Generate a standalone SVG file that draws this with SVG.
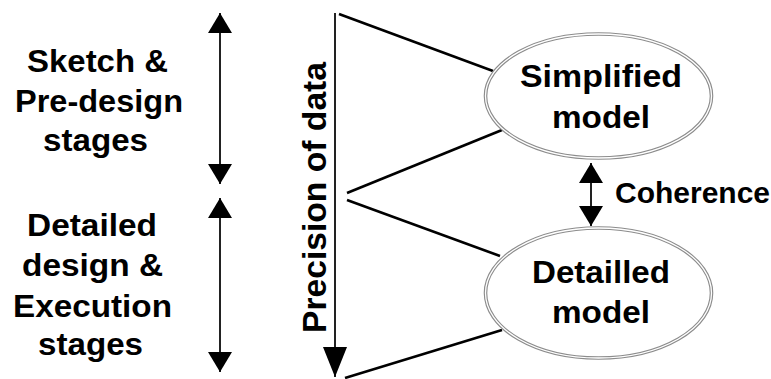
<svg xmlns="http://www.w3.org/2000/svg" width="771" height="379" viewBox="0 0 771 379">
  <style>
    .lbl { font-family: "Liberation Sans", Arial, Helvetica, sans-serif; font-weight: bold; fill: #000; }
    .c { text-anchor: middle; }
    .axis { stroke: #222; stroke-width: 2; fill: none; }
    .link { stroke: #000; stroke-width: 2.6; fill: none; }
    .ring-out { fill: #fff; stroke: #8c8c8c; stroke-width: 3.6; }
    .ring-in { fill: none; stroke: #fff; stroke-width: 1.3; }
  </style>
  <defs>
    <marker id="head" markerUnits="userSpaceOnUse" markerWidth="24" markerHeight="24" refX="20" refY="12" orient="auto-start-reverse" viewBox="0 0 24 24">
      <path d="M0,0 L20,12 L0,24 Z" fill="#000"/>
    </marker>
    <marker id="bighead" markerUnits="userSpaceOnUse" markerWidth="30" markerHeight="24" refX="30" refY="12" orient="auto" viewBox="0 0 30 24">
      <path d="M0,0 L30,12 L0,24 Z" fill="#000"/>
    </marker>
  </defs>

  <!-- stage ranges -->
  <g id="stage-sketch">
    <line class="axis" x1="220" y1="13" x2="220" y2="184" marker-start="url(#head)" marker-end="url(#head)"/>
    <text class="lbl c" font-size="32" x="97.5" y="72" textLength="141" lengthAdjust="spacingAndGlyphs">Sketch &amp;</text>
    <text class="lbl c" font-size="32" x="99" y="112" textLength="168" lengthAdjust="spacingAndGlyphs">Pre-design</text>
    <text class="lbl c" font-size="32" x="95.5" y="151" textLength="105" lengthAdjust="spacingAndGlyphs">stages</text>
  </g>
  <g id="stage-detailed">
    <line class="axis" x1="220" y1="198" x2="220" y2="372" marker-start="url(#head)" marker-end="url(#head)"/>
    <text class="lbl c" font-size="32" x="92" y="236" textLength="130" lengthAdjust="spacingAndGlyphs">Detailed</text>
    <text class="lbl c" font-size="32" x="92.5" y="276" textLength="141" lengthAdjust="spacingAndGlyphs">design &amp;</text>
    <text class="lbl c" font-size="32" x="92.5" y="317" textLength="159" lengthAdjust="spacingAndGlyphs">Execution</text>
    <text class="lbl c" font-size="32" x="90.5" y="355" textLength="105" lengthAdjust="spacingAndGlyphs">stages</text>
  </g>

  <!-- precision axis -->
  <g id="precision-axis">
    <line class="axis" x1="335" y1="13" x2="335" y2="377" marker-end="url(#bighead)"/>
    <text class="lbl c" font-size="34" transform="translate(326,197.5) rotate(-90)" textLength="271" lengthAdjust="spacingAndGlyphs">Precision of data</text>
  </g>

  <!-- connectors -->
  <g id="connectors">
    <line class="link" x1="339" y1="14" x2="493" y2="71"/>
    <line class="link" x1="347" y1="193" x2="502" y2="130"/>
    <line class="link" x1="347" y1="200" x2="500" y2="256"/>
    <line class="link" x1="345" y1="378" x2="502" y2="330"/>
  </g>

  <!-- models -->
  <g id="simplified-model">
    <ellipse class="ring-out" cx="598.5" cy="96" rx="113" ry="62"/>
    <ellipse class="ring-in" cx="598.5" cy="96" rx="113" ry="62"/>
    <text class="lbl c" font-size="32" x="601" y="87" textLength="162" lengthAdjust="spacingAndGlyphs">Simplified</text>
    <text class="lbl c" font-size="32" x="601" y="128" textLength="98" lengthAdjust="spacingAndGlyphs">model</text>
  </g>
  <g id="detailled-model">
    <ellipse class="ring-out" cx="598.5" cy="293" rx="113" ry="65"/>
    <ellipse class="ring-in" cx="598.5" cy="293" rx="113" ry="65"/>
    <text class="lbl c" font-size="32" x="601" y="283" textLength="138" lengthAdjust="spacingAndGlyphs">Detailled</text>
    <text class="lbl c" font-size="32" x="601" y="323" textLength="98" lengthAdjust="spacingAndGlyphs">model</text>
  </g>

  <!-- coherence link -->
  <g id="coherence">
    <line class="axis" x1="591" y1="163" x2="591" y2="226" marker-start="url(#head)" marker-end="url(#head)"/>
    <text class="lbl" font-size="30" x="615" y="203" textLength="155" lengthAdjust="spacingAndGlyphs">Coherence</text>
  </g>
</svg>
